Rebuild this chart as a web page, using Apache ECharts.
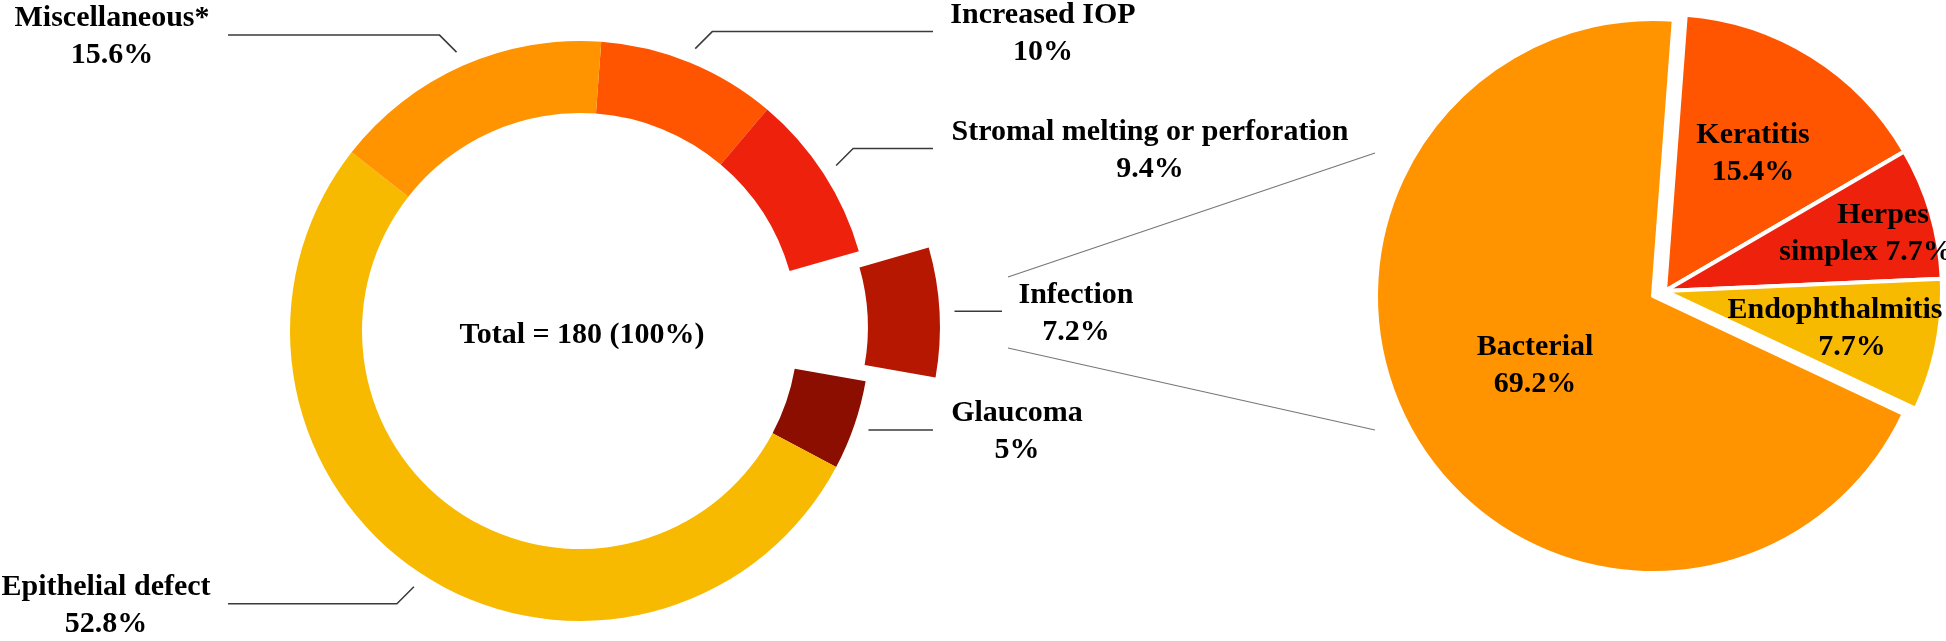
<!DOCTYPE html>
<html><head><meta charset="utf-8">
<script src="https://cdn.jsdelivr.net/npm/echarts@6/dist/echarts.min.js"></script>
<style>html,body{margin:0;padding:0;background:#fff}#c{width:1946px;height:641px}</style>
</head><body><div id="c"></div>
<script>
// ---------- data ----------
const causeNames = ['Increased IOP', 'Stromal melting or perforation', 'Infection', 'Glaucoma', 'Epithelial defect', 'Miscellaneous*'];
const causeValues = [10, 9.4, 7.2, 5, 52.8, 15.6];
const totalText = 'Total = 180 (100%)';
const infectionNames = ['Keratitis', 'Herpes simplex', 'Endophthalmitis', 'Bacterial'];
const infectionValues = [15.4, 7.7, 7.7, 69.2];

// ---------- layout & style ----------
const FONT = "'Liberation Serif','Times New Roman',serif";
const donut = { cx: 580, cy: 331, r0: 218, r1: 290, start: 85.8, explode: 70, gap: 15, explodedName: 'Infection' };
const causeColors = ['#FF5500', '#EE220C', '#B51700', '#8B0E00', '#F8BA00', '#FF9300'];
const causeLabel = [
  { x: 1043, endX: 933, bend: -1 },
  { x: 1150, endX: 933, bend: -1 },
  { x: 1076, endX: 1002, bend: 0 },
  { x: 1017, endX: 933, bend: 0 },
  { x: 106, endX: 228, bend: 1 },
  { x: 112, endX: 228, bend: -1 }
];
const pie = { cx: 1653, cy: 296, r: 277, start: 85.7, shift: [12, -5], mainName: 'Bacterial' };
const pieColors = ['#FF5500', '#EE220C', '#F8BA00', '#FF9300'];
const pieLabel = [
  { x: 1753, y: 154, split: false, pad1: 0, pad2: 0 },
  { x: 1866, y: 234, split: true, pad1: 34, pad2: 0 },
  { x: 1835, y: 329, split: false, pad1: 0, pad2: 34 },
  { x: 1535, y: 366, split: false, pad1: 0, pad2: 0 }
];
const connectors = [
  [[1008, 277], [1375, 153]],
  [[1008, 348], [1375, 430]]
];

const TOTAL = causeValues.reduce((a, b) => a + b, 0);
const a0 = 90 - donut.start;
const mids = [];
let cum = 0;
causeValues.forEach(v => { mids.push(a0 + (cum + v / 2) / TOTAL * 360); cum += v; });
const exIdx = causeNames.indexOf(donut.explodedName);
const exRad = mids[exIdx] * Math.PI / 180;
const exShift = [donut.explode * Math.sin(exRad), -donut.explode * Math.cos(exRad)];

const txt = { color: '#000', fontFamily: FONT, fontWeight: 'bold', fontSize: 30, lineHeight: 37 };
const HIDDEN = { color: 'rgba(0,0,0,0)', borderWidth: 0 };

function donutData(exploded) {
  return causeNames.map((n, i) => {
    const visible = exploded ? n === donut.explodedName : n !== donut.explodedName;
    return {
      name: n, value: causeValues[i],
      itemStyle: visible ? { color: causeColors[i] } : HIDDEN,
      label: { show: visible }, labelLine: { show: visible }
    };
  });
}

function donutLayout(p) {
  const i = p.dataIndex, L = causeLabel[i];
  const m = mids[i] * Math.PI / 180;
  const r = donut.r1 + donut.gap + (causeNames[i] === donut.explodedName ? donut.explode : 0);
  const sx = donut.cx + r * Math.sin(m), sy = donut.cy - r * Math.cos(m);
  const dir = L.endX > sx ? 1 : -1;
  let bx = sx, by = sy;
  if (L.bend) { bx = sx + dir * 17; by = sy + L.bend * 17; }
  return { x: L.x, y: by + 2, align: 'center', verticalAlign: 'middle',
    labelLinePoints: [[sx, sy], [bx, by], [L.endX, by]] };
}

function donutSeries(exploded) {
  return {
    type: 'pie', silent: true, animation: false,
    center: exploded ? [donut.cx + exShift[0], donut.cy + exShift[1]] : [donut.cx, donut.cy],
    radius: [donut.r0, donut.r1], startAngle: donut.start, clockwise: true,
    avoidLabelOverlap: false, emphasis: { disabled: true },
    label: Object.assign({ position: 'outside', formatter: p => p.name + '\n' + p.value + '%' }, txt),
    labelLine: { length: 10, length2: 10, lineStyle: { color: '#3a3a3a', width: 1.5 } },
    labelLayout: donutLayout,
    data: donutData(exploded)
  };
}

function pieData(group) {
  return infectionNames.map((n, i) => {
    const visible = group ? n !== pie.mainName : n === pie.mainName;
    const L = pieLabel[i];
    let l1, l2;
    if (L.split) {
      const parts = n.split(' ');
      l1 = parts[0]; l2 = parts.slice(1).join(' ') + ' ' + infectionValues[i] + '%';
    } else { l1 = n; l2 = infectionValues[i] + '%'; }
    return {
      name: n, value: infectionValues[i],
      itemStyle: visible ? { color: pieColors[i], borderColor: '#fff', borderWidth: 4 } : HIDDEN,
      label: {
        show: visible,
        formatter: '{a|' + l1 + '}\n{b|' + l2 + '}',
        rich: {
          a: Object.assign({}, txt, { padding: [0, 0, 0, L.pad1] }),
          b: Object.assign({}, txt, { padding: [0, 0, 0, L.pad2] })
        }
      }
    };
  });
}

function pieSeries(group) {
  return {
    type: 'pie', silent: true, animation: false,
    center: group ? [pie.cx + pie.shift[0], pie.cy + pie.shift[1]] : [pie.cx, pie.cy],
    radius: [0, pie.r], startAngle: pie.start, clockwise: true,
    avoidLabelOverlap: false, emphasis: { disabled: true },
    label: { position: 'inside' }, labelLine: { show: false },
    labelLayout: p => ({ x: pieLabel[p.dataIndex].x, y: pieLabel[p.dataIndex].y, align: 'center', verticalAlign: 'middle' }),
    data: pieData(group)
  };
}

const chart = echarts.init(document.getElementById('c'));
chart.setOption({
  backgroundColor: '#fff',
  animation: false,
  graphic: [
    { type: 'text', x: donut.cx + 2, y: donut.cy + 4, silent: true,
      style: { text: totalText, fill: '#000', font: 'bold 30px ' + FONT, textAlign: 'center', textVerticalAlign: 'middle' } }
  ].concat(connectors.map(c => ({
    type: 'line', silent: true,
    shape: { x1: c[0][0], y1: c[0][1], x2: c[1][0], y2: c[1][1] },
    style: { stroke: '#777', lineWidth: 1.2 }
  }))),
  series: [donutSeries(false), donutSeries(true), pieSeries(false), pieSeries(true)]
});
</script>
</body></html>
